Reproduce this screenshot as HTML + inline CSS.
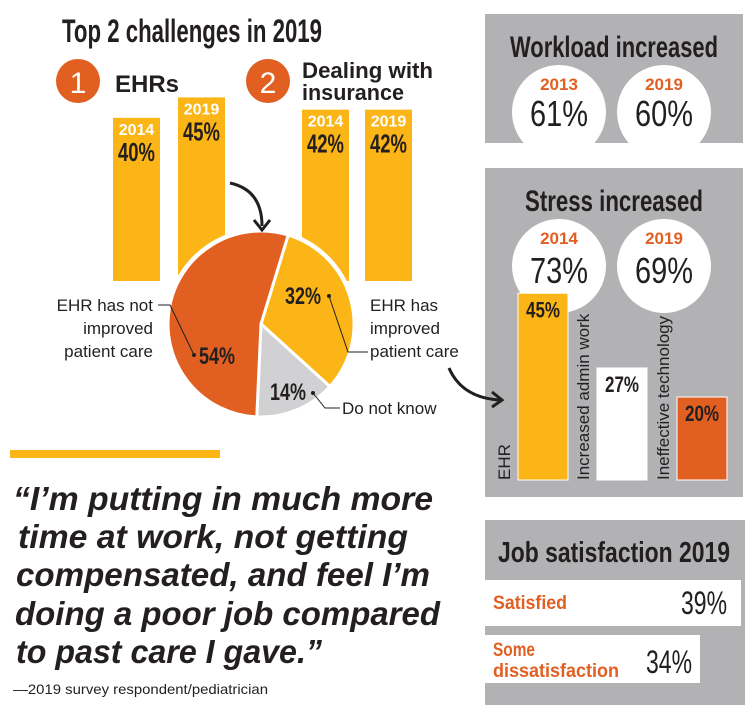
<!DOCTYPE html>
<html><head><meta charset="utf-8"><style>
html,body{margin:0;padding:0;background:#fff;}
svg{display:block;font-family:"Liberation Sans",sans-serif;}
.cond{font-family:"Liberation Sans Narrow","Liberation Sans",sans-serif;}
</style></head><body>
<svg id="c" width="752" height="717" viewBox="0 0 752 717" xmlns="http://www.w3.org/2000/svg">
<text x="62" y="42" font-size="32" font-weight="bold" class="cond" textLength="260" lengthAdjust="spacingAndGlyphs" fill="#231f20">Top 2 challenges in 2019</text>
<circle cx="78" cy="81" r="22" fill="#e25f22"/>
<text x="78" y="93" font-size="30" fill="#fff" text-anchor="middle" class="cond">1</text>
<text x="115" y="92" font-size="24" font-weight="bold" fill="#231f20">EHRs</text>
<circle cx="268" cy="81" r="22" fill="#e25f22"/>
<text x="268" y="93" font-size="30" fill="#fff" text-anchor="middle" class="cond">2</text>
<text x="302" y="78" font-size="22" font-weight="bold" fill="#231f20" textLength="131" lengthAdjust="spacingAndGlyphs">Dealing with</text>
<text x="302" y="100" font-size="22" font-weight="bold" fill="#231f20" textLength="102" lengthAdjust="spacingAndGlyphs">insurance</text>
<g id="topbars"></g>
<g id="pie"></g>
<text x="153" y="311" font-size="17" text-anchor="end" class="cond" fill="#231f20"><tspan x="153">EHR has not</tspan><tspan x="153" dy="23">improved</tspan><tspan x="153" dy="23">patient care</tspan></text>
<text x="370" y="311" font-size="17" class="cond" fill="#231f20"><tspan x="370">EHR has</tspan><tspan x="370" dy="23">improved</tspan><tspan x="370" dy="23">patient care</tspan></text>
<text x="342" y="414" font-size="17" class="cond" fill="#231f20">Do not know</text>
<polyline points="158,305 170,305 194,355" fill="none" stroke="#231f20" stroke-width="1"/>
<circle cx="194" cy="355" r="2" fill="#231f20"/>
<polyline points="329,296 348,352 368,352" fill="none" stroke="#231f20" stroke-width="1"/>
<circle cx="329" cy="296" r="2" fill="#231f20"/>
<polyline points="313,393 325,408 340,408" fill="none" stroke="#231f20" stroke-width="1"/>
<circle cx="313" cy="393" r="2" fill="#231f20"/>
<path d="M230,183 Q262,190 262,226" fill="none" stroke="#231f20" stroke-width="3"/>
<polyline points="254,220 262,230 270,220" fill="none" stroke="#231f20" stroke-width="3"/>
<rect x="10" y="450" width="210" height="8" fill="#fbb516"/>
<g font-size="33" font-weight="bold" font-style="italic" fill="#231f20">
<text x="13" y="510" textLength="420" lengthAdjust="spacingAndGlyphs">“I’m putting in much more</text>
<text x="18" y="548" textLength="390" lengthAdjust="spacingAndGlyphs">time at work, not getting</text>
<text x="16" y="586" textLength="414" lengthAdjust="spacingAndGlyphs">compensated, and feel I’m</text>
<text x="15" y="625" textLength="425" lengthAdjust="spacingAndGlyphs">doing a poor job compared</text>
<text x="16" y="663" textLength="306" lengthAdjust="spacingAndGlyphs">to past care I gave.”</text>
</g>
<text x="13" y="694" font-size="14" class="cond" fill="#231f20" textLength="255" lengthAdjust="spacingAndGlyphs">—2019 survey respondent/pediatrician</text>
<defs><clipPath id="wclip"><rect x="485" y="14" width="258" height="129"/></clipPath></defs>
<rect x="485" y="14" width="258" height="129" fill="#b2b2b4"/>
<text x="614" y="57" font-size="30" font-weight="bold" class="cond" text-anchor="middle" fill="#231f20" textLength="208" lengthAdjust="spacingAndGlyphs">Workload increased</text>
<g clip-path="url(#wclip)">
<circle cx="559" cy="112" r="47" fill="#fff"/>
<circle cx="664" cy="112" r="47" fill="#fff"/>
</g>
<text x="559" y="90" font-size="17" font-weight="bold" fill="#e25f22" text-anchor="middle">2013</text>
<text x="559" y="126" font-size="36" class="cond" fill="#231f20" text-anchor="middle" textLength="58" lengthAdjust="spacingAndGlyphs">61%</text>
<text x="664" y="90" font-size="17" font-weight="bold" fill="#e25f22" text-anchor="middle">2019</text>
<text x="664" y="126" font-size="36" class="cond" fill="#231f20" text-anchor="middle" textLength="58" lengthAdjust="spacingAndGlyphs">60%</text>
<rect x="485" y="168" width="258" height="329" fill="#b2b2b4"/>
<text x="614" y="211" font-size="30" font-weight="bold" class="cond" text-anchor="middle" fill="#231f20" textLength="178" lengthAdjust="spacingAndGlyphs">Stress increased</text>
<circle cx="559" cy="266" r="47" fill="#fff"/>
<circle cx="664" cy="266" r="47" fill="#fff"/>
<text x="559" y="244" font-size="17" font-weight="bold" fill="#e25f22" text-anchor="middle">2014</text>
<text x="559" y="283" font-size="36" class="cond" fill="#231f20" text-anchor="middle" textLength="58" lengthAdjust="spacingAndGlyphs">73%</text>
<text x="664" y="244" font-size="17" font-weight="bold" fill="#e25f22" text-anchor="middle">2019</text>
<text x="664" y="283" font-size="36" class="cond" fill="#231f20" text-anchor="middle" textLength="58" lengthAdjust="spacingAndGlyphs">69%</text>
<g id="stressbars"></g>
<path d="M449,368 Q462,398 500,400" fill="none" stroke="#231f20" stroke-width="3"/>
<polyline points="492,392 502,400 492,407" fill="none" stroke="#231f20" stroke-width="3"/>
<rect x="485" y="520" width="260" height="185" fill="#b2b2b4"/>
<text x="614" y="562" font-size="29" font-weight="bold" class="cond" text-anchor="middle" fill="#231f20" textLength="232" lengthAdjust="spacingAndGlyphs">Job satisfaction 2019</text>
<rect x="485" y="580" width="256" height="46" fill="#fff"/>
<text x="493" y="609" font-size="19" font-weight="bold" class="cond" fill="#e25f22" textLength="74" lengthAdjust="spacingAndGlyphs">Satisfied</text>
<text x="727" y="614" font-size="32" class="cond" fill="#231f20" text-anchor="end" textLength="46" lengthAdjust="spacingAndGlyphs">39%</text>
<rect x="485" y="635" width="215" height="48" fill="#fff"/>
<text x="493" y="656" font-size="19" font-weight="bold" class="cond" fill="#e25f22" textLength="42" lengthAdjust="spacingAndGlyphs">Some</text>
<text x="493" y="677" font-size="19" font-weight="bold" class="cond" fill="#e25f22" textLength="126" lengthAdjust="spacingAndGlyphs">dissatisfaction</text>
<text x="692" y="673" font-size="32" class="cond" fill="#231f20" text-anchor="end" textLength="46" lengthAdjust="spacingAndGlyphs">34%</text>
</svg>
<script>
const NS="http://www.w3.org/2000/svg";
const topYears=["2014","2019","2014","2019"];
const topValues=[40,45,42,42];
const pieLabels=["Improved","Do not know","Not improved"];
const pieValues=[32,14,54];
const stressCats=["EHR","Increased admin work","Ineffective technology"];
const stressValues=[45,27,20];

function mk(tag,attrs,parent){const e=document.createElementNS(NS,tag);for(const k in attrs)e.setAttribute(k,attrs[k]);parent.appendChild(e);return e;}

const tb=document.getElementById('topbars');
const topX=[113,178,302,365], topW=47, topBase=281, topScale=4.08;
const yTop=v=>topBase-v*topScale;
topValues.forEach((v,i)=>{
  const r=mk('rect',{x:topX[i],y:yTop(v),width:topW,height:topBase-yTop(v),fill:'#fbb516'},tb);
  
  
  const cx=topX[i]+topW/2;
  const t1=mk('text',{x:cx,y:yTop(v)+17,'font-size':16,'font-weight':'bold',fill:'#fff','text-anchor':'middle'},tb);
  t1.textContent=topYears[i];
  
  
  const t2=mk('text',{x:cx,y:yTop(v)+43,'font-size':26,'font-weight':'bold',class:'cond',fill:'#231f20','text-anchor':'middle',textLength:37,lengthAdjust:'spacingAndGlyphs'},tb);
  t2.textContent=v+'%';
  
  
});

const pg=document.getElementById('pie');
const pcx=261,pcy=324,pr=93,startDeg=17;
const pieColors=['#fbb516','#d1d1d4','#e25f22'];
const total=pieValues.reduce((a,b)=>a+b,0);
let a0=startDeg;
const pt=(deg,r)=>[pcx+r*Math.sin(deg*Math.PI/180),pcy-r*Math.cos(deg*Math.PI/180)];
mk('circle',{cx:pcx,cy:pcy,r:pr+3,fill:'#fff'},pg);
pieValues.forEach((v,i)=>{
  const a1=a0+v/total*360;
  const p0=pt(a0,pr),p1=pt(a1,pr);
  const large=(a1-a0)>180?1:0;
  const p=mk('path',{d:`M${pcx},${pcy}L${p0[0]},${p0[1]}A${pr},${pr} 0 ${large} 1 ${p1[0]},${p1[1]}Z`,fill:pieColors[i],stroke:'#fff','stroke-width':3},pg);
  
  
  a0=a1;
});
const pieTextPos=[[303,304],[288,400],[217,364]];
pieValues.forEach((v,i)=>{
  const t=mk('text',{x:pieTextPos[i][0],y:pieTextPos[i][1],'font-size':24,'font-weight':'bold',class:'cond',fill:'#231f20','text-anchor':'middle',textLength:36,lengthAdjust:'spacingAndGlyphs'},pg);
  t.textContent=v+'%';
  
  
});

const sb=document.getElementById('stressbars');
const sX=[518,597,677], sW=50, sBase=480, sScale=4.15;
const ySt=v=>sBase-v*sScale;
const sColors=['#fbb516','#ffffff','#e25f22'];
stressValues.forEach((v,i)=>{
  const r=mk('rect',{x:sX[i],y:ySt(v),width:sW,height:sBase-ySt(v),fill:sColors[i],stroke:'#fff','stroke-width':1},sb);
  
  
  const t=mk('text',{x:sX[i]+sW/2,y:ySt(v)+24,'font-size':22,'font-weight':'bold',class:'cond',fill:'#231f20','text-anchor':'middle',textLength:34,lengthAdjust:'spacingAndGlyphs'},sb);
  t.textContent=v+'%';
  
  
  const lx=sX[i]-8;
  const l=mk('text',{x:lx,y:sBase,'font-size':17,class:'cond',fill:'#231f20',transform:`rotate(-90 ${lx} ${sBase})`},sb);
  l.textContent=stressCats[i];
  
  
});
</script>
</body></html>
